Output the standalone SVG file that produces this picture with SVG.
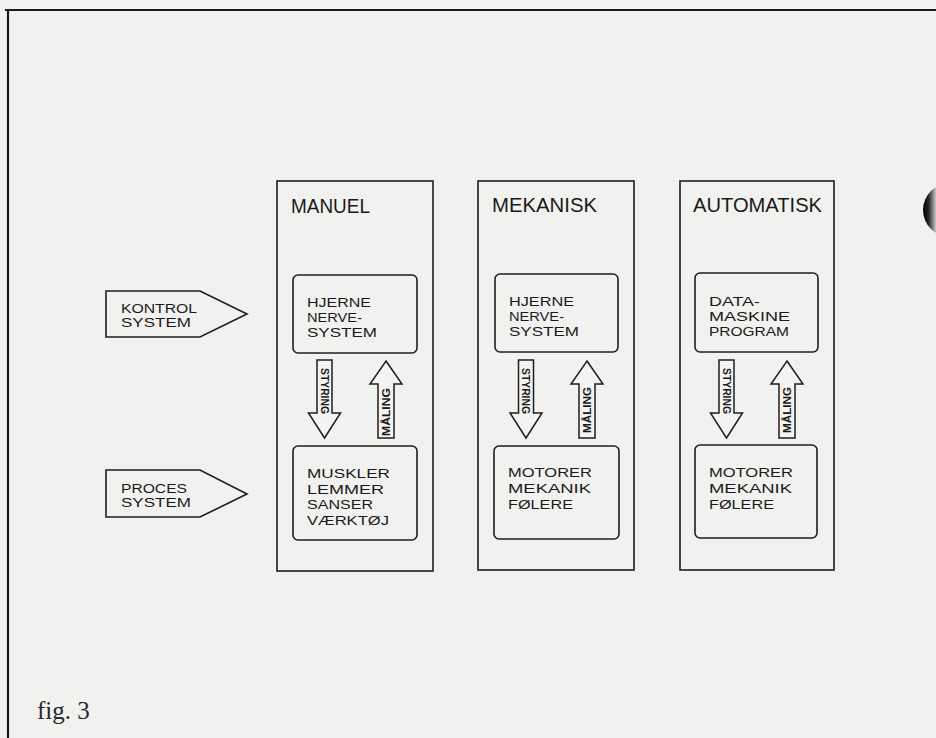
<svg xmlns="http://www.w3.org/2000/svg" width="936" height="738" viewBox="0 0 936 738">
<style>
.ln{fill:none;stroke:#1e1e1e;stroke-width:1.6}
.ar{fill:#f3f3f1;stroke:#1e1e1e;stroke-width:1.5}
.t{font-family:"Liberation Sans",Arial,sans-serif;fill:#1a1a1a}
.h{font-size:21px}
.b{font-size:13.5px}
.s{font-size:12.5px}
.r{font-size:10.5px;font-weight:bold}
</style>
<defs>
<path id="down" d="M-7.5,360 H7.5 V413 H16 L0,438 L-16,413 H-7.5 Z" class="ar"/>
<path id="up" d="M0,361 L16,384 H8 V438 H-8 V384 H-16 Z" class="ar"/>
<linearGradient id="hole" x1="0" y1="0" x2="1" y2="0">
<stop offset="0" stop-color="#050505"/>
<stop offset="0.1" stop-color="#222"/>
<stop offset="0.24" stop-color="#c8c8c8"/>
<stop offset="1" stop-color="#eee"/>
</linearGradient>
</defs>
<rect x="0" y="0" width="936" height="738" fill="#f1f1ef"/>
<path d="M5,10 H936 M8,10 V738" fill="none" stroke="#1a1a1a" stroke-width="2.2"/>
<circle cx="950" cy="210" r="27" fill="url(#hole)"/>

<g id="kontrol">
<path d="M106,291 H200 L247,314 L200,337 H106 Z" class="ln"/>
<text class="t s" x="121" y="313" textLength="76" lengthAdjust="spacingAndGlyphs">KONTROL</text>
<text class="t s" x="121" y="327" textLength="70" lengthAdjust="spacingAndGlyphs">SYSTEM</text>
</g>
<g id="proces">
<path d="M106,470 H200 L247,494 L200,517 H106 Z" class="ln"/>
<text class="t s" x="121" y="493" textLength="66" lengthAdjust="spacingAndGlyphs">PROCES</text>
<text class="t s" x="121" y="507" textLength="70" lengthAdjust="spacingAndGlyphs">SYSTEM</text>
</g>

<g id="manuel">
<rect x="277" y="181" width="156" height="390" class="ln"/>
<text class="t h" x="291" y="213" textLength="79" lengthAdjust="spacingAndGlyphs">MANUEL</text>
</g>
<g id="manuel-top">
<rect x="293" y="275" width="124" height="78" rx="5" class="ln"/>
<text class="t b" x="307" y="307" textLength="64" lengthAdjust="spacingAndGlyphs">HJERNE</text>
<text class="t b" x="307" y="322" textLength="55" lengthAdjust="spacingAndGlyphs">NERVE-</text>
<text class="t b" x="307" y="337" textLength="70" lengthAdjust="spacingAndGlyphs">SYSTEM</text>
</g>
<g id="manuel-bottom">
<rect x="293" y="446" width="124" height="94" rx="5" class="ln"/>
<text class="t b" x="307" y="478" textLength="83" lengthAdjust="spacingAndGlyphs">MUSKLER</text>
<text class="t b" x="307" y="494" textLength="77" lengthAdjust="spacingAndGlyphs">LEMMER</text>
<text class="t b" x="307" y="509" textLength="66" lengthAdjust="spacingAndGlyphs">SANSER</text>
<text class="t b" x="307" y="525" textLength="82" lengthAdjust="spacingAndGlyphs">VÆRKTØJ</text>
</g>

<g id="mekanisk">
<rect x="478" y="181" width="156" height="389" class="ln"/>
<text class="t h" x="492" y="212" textLength="105" lengthAdjust="spacingAndGlyphs">MEKANISK</text>
</g>
<g id="mekanisk-top">
<rect x="495" y="274" width="123" height="78" rx="5" class="ln"/>
<text class="t b" x="509" y="306" textLength="65" lengthAdjust="spacingAndGlyphs">HJERNE</text>
<text class="t b" x="509" y="321" textLength="55" lengthAdjust="spacingAndGlyphs">NERVE-</text>
<text class="t b" x="509" y="336" textLength="70" lengthAdjust="spacingAndGlyphs">SYSTEM</text>
</g>
<g id="mekanisk-bottom">
<rect x="494" y="446" width="125" height="93" rx="5" class="ln"/>
<text class="t b" x="508" y="477" textLength="84" lengthAdjust="spacingAndGlyphs">MOTORER</text>
<text class="t b" x="508" y="493" textLength="83" lengthAdjust="spacingAndGlyphs">MEKANIK</text>
<text class="t b" x="508" y="509" textLength="65" lengthAdjust="spacingAndGlyphs">FØLERE</text>
</g>

<g id="automatisk">
<rect x="680" y="181" width="154" height="389" class="ln"/>
<text class="t h" x="693" y="212" textLength="129" lengthAdjust="spacingAndGlyphs">AUTOMATISK</text>
</g>
<g id="automatisk-top">
<rect x="695" y="273" width="123" height="79" rx="5" class="ln"/>
<text class="t b" x="709" y="306" textLength="51" lengthAdjust="spacingAndGlyphs">DATA-</text>
<text class="t b" x="709" y="321" textLength="81" lengthAdjust="spacingAndGlyphs">MASKINE</text>
<text class="t b" x="709" y="336" textLength="80" lengthAdjust="spacingAndGlyphs">PROGRAM</text>
</g>
<g id="automatisk-bottom">
<rect x="695" y="445" width="122" height="93" rx="5" class="ln"/>
<text class="t b" x="709" y="477" textLength="84" lengthAdjust="spacingAndGlyphs">MOTORER</text>
<text class="t b" x="709" y="493" textLength="83" lengthAdjust="spacingAndGlyphs">MEKANIK</text>
<text class="t b" x="709" y="509" textLength="65" lengthAdjust="spacingAndGlyphs">FØLERE</text>
</g>

<g id="connectors">
<use href="#down" x="324.5"/>
<use href="#up" x="386"/>
<use href="#down" x="526"/>
<use href="#up" x="587"/>
<use href="#down" x="726.5"/>
<use href="#up" x="787"/>
<text class="t r" transform="translate(324.5,391) rotate(90)" text-anchor="middle" dominant-baseline="central" textLength="46" lengthAdjust="spacingAndGlyphs">STYRING</text>
<text class="t r" transform="translate(386,412) rotate(-90)" text-anchor="middle" dominant-baseline="central" textLength="48" lengthAdjust="spacingAndGlyphs">MÅLING</text>
<text class="t r" transform="translate(526,391) rotate(90)" text-anchor="middle" dominant-baseline="central" textLength="46" lengthAdjust="spacingAndGlyphs">STYRING</text>
<text class="t r" transform="translate(587,410) rotate(-90)" text-anchor="middle" dominant-baseline="central" textLength="46" lengthAdjust="spacingAndGlyphs">MÅLING</text>
<text class="t r" transform="translate(726.5,391) rotate(90)" text-anchor="middle" dominant-baseline="central" textLength="46" lengthAdjust="spacingAndGlyphs">STYRING</text>
<text class="t r" transform="translate(787,410) rotate(-90)" text-anchor="middle" dominant-baseline="central" textLength="46" lengthAdjust="spacingAndGlyphs">MÅLING</text>
</g>

<text x="37" y="719" font-family="'Liberation Serif','Times New Roman',serif" font-size="25" fill="#2a2a2a">fig. 3</text>
</svg>
